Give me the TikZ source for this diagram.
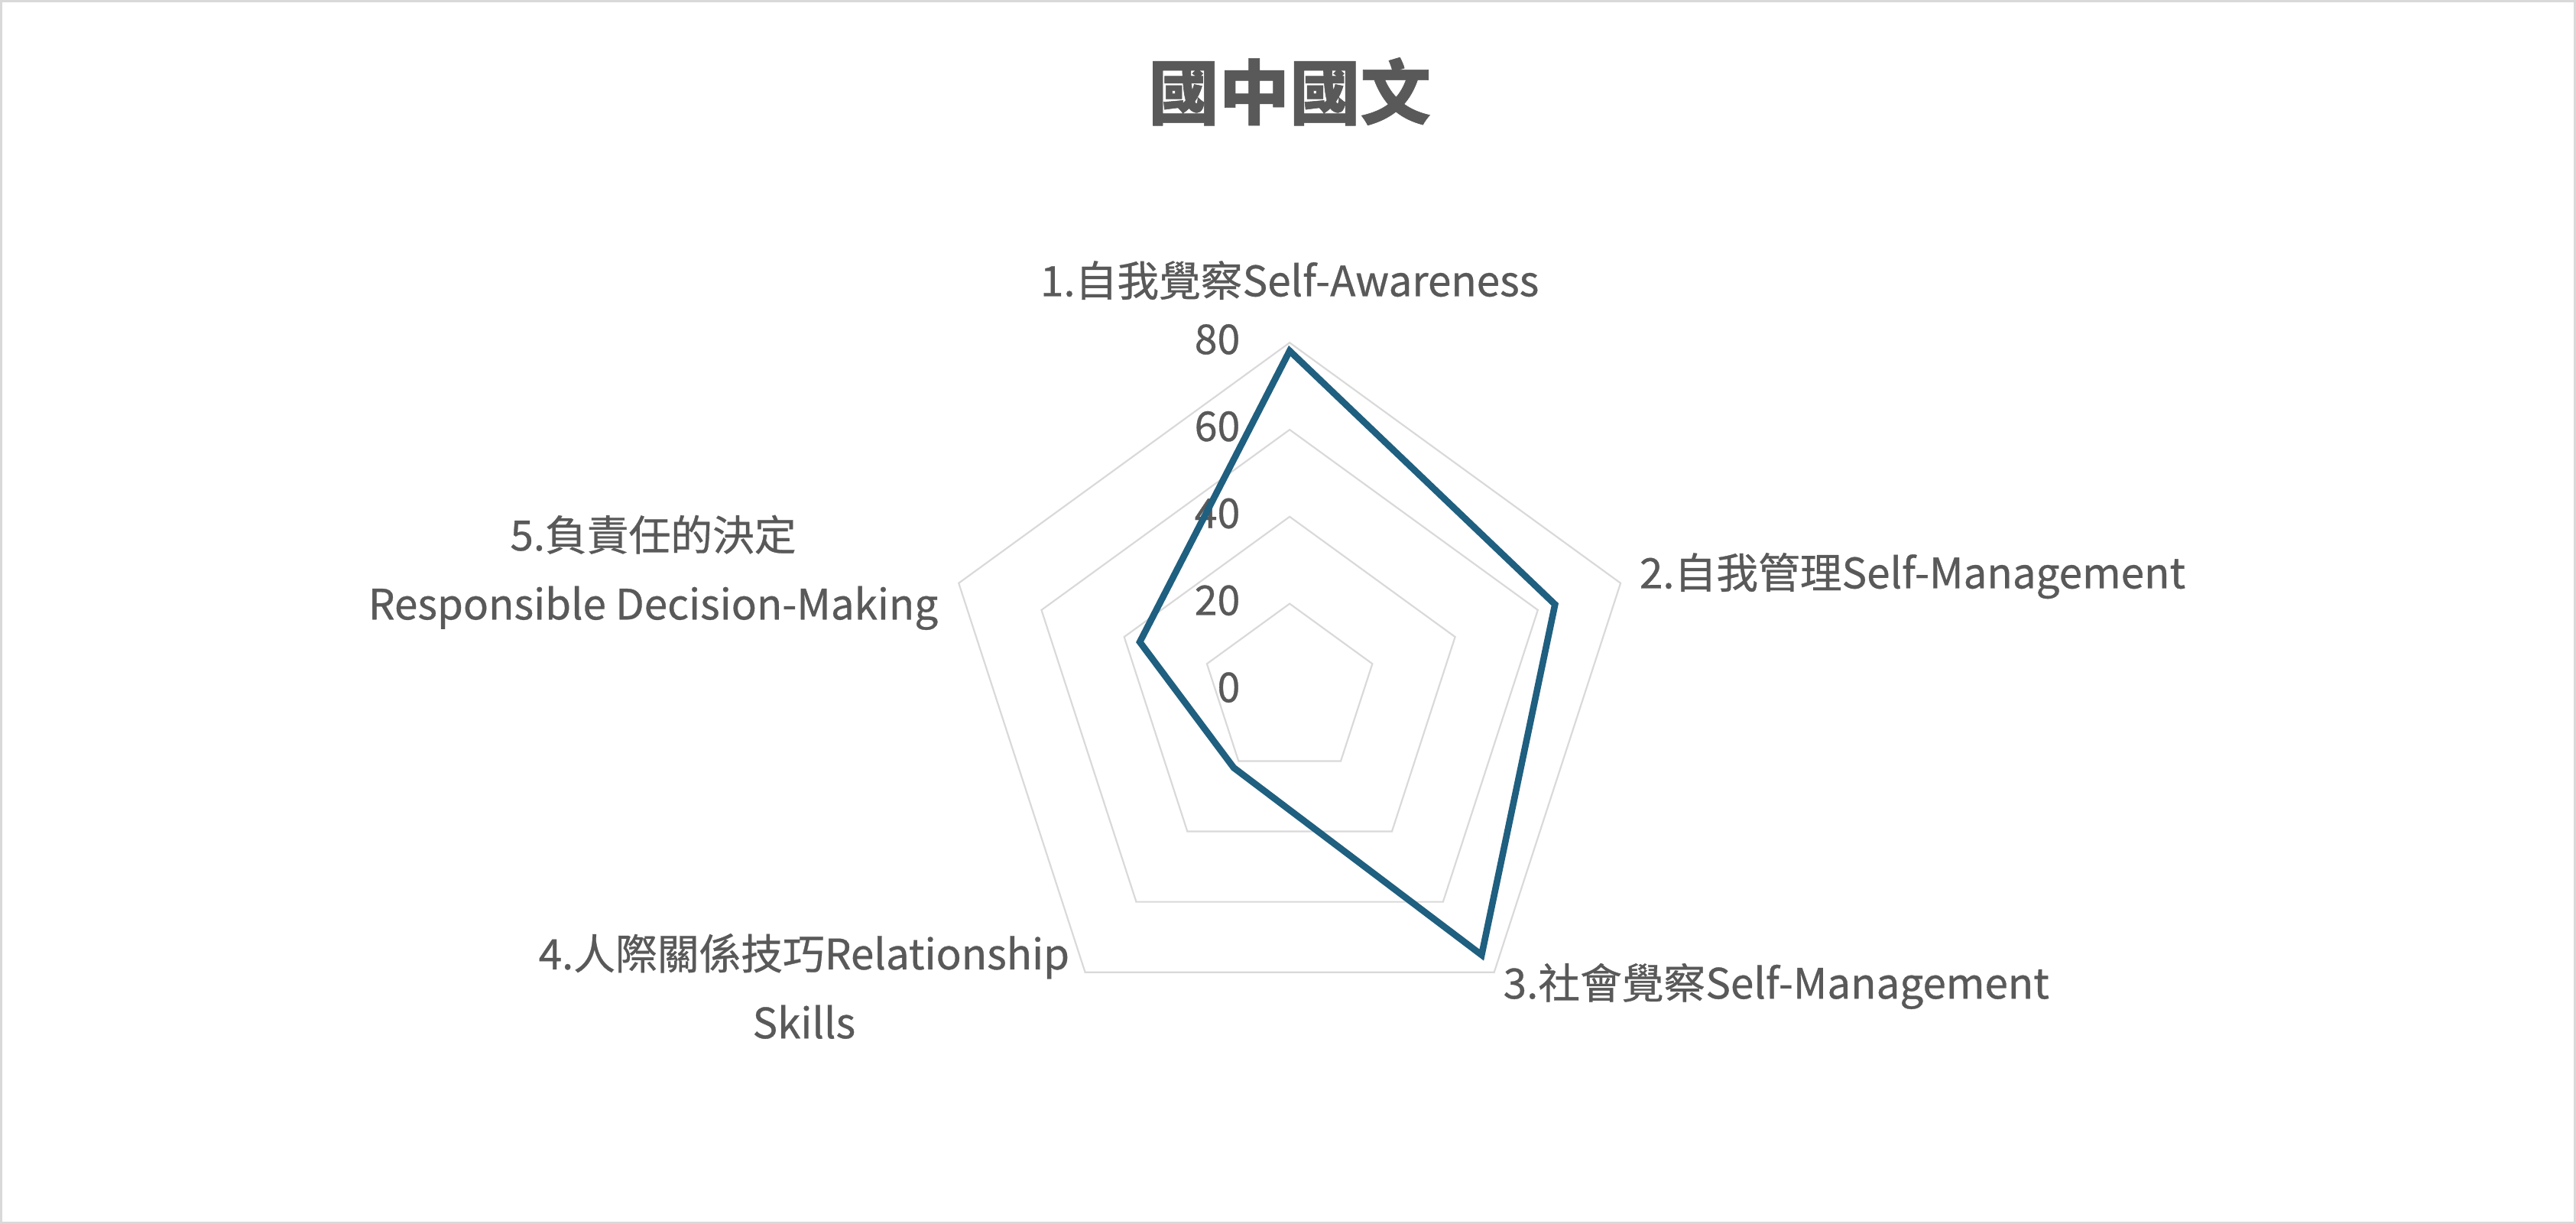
\documentclass[tikz,border=0pt]{standalone}
\usepackage{fontspec}
\setmainfont{Noto Sans CJK TC}[FakeBold=0.6]
\usepackage{tikz}
\usetikzlibrary{positioning, calc}
\definecolor{labelgray}{HTML}{595959}
\definecolor{ringgray}{HTML}{D9D9D9}
\definecolor{seriesblue}{HTML}{1F5F7F}

\begin{document}
\begin{tikzpicture}[x=1pt, y=-1pt,
    ring/.style={draw=ringgray, line width=1pt},
    series/.style={draw=seriesblue, line width=4pt, line join=miter},
    axislabel/.style={text=labelgray, font=\fontsize{25.5}{30}\selectfont, inner sep=0pt},
    ticklabel/.style={text=labelgray, font=\fontsize{25}{26}\selectfont, anchor=east, inner sep=0pt}]
    % frame and background
    \draw[draw=ringgray, line width=1.5pt, fill=white] (0,0) rectangle (1568,744);
    \coordinate (center) at (785,420);

    % title
    \node[text=labelgray, font=\fontsize{43}{48}\selectfont\bfseries] (title) at (785,55) {國中國文};

    % rings
    \foreach \r in {53,106,159,212} {
        \draw[ring] ($(center)+(-90:\r)$) -- ($(center)+(-18:\r)$) -- ($(center)+(54:\r)$)
            -- ($(center)+(126:\r)$) -- ($(center)+(198:\r)$) -- cycle;
    }

    % tick labels
    \foreach \v/\r in {0/0,20/53,40/106,60/159,80/212} {
        \node[ticklabel] at ($(center)+(-30,-\r)+(0,-2)$) {\v};
    }

    % data
    \coordinate (d1) at ($(center)+(-90:207)$);
    \coordinate (d2) at ($(center)+(-18:170)$);
    \coordinate (d3) at ($(center)+(54:199)$);
    \coordinate (d4) at ($(center)+(126:58)$);
    \coordinate (d5) at ($(center)+(198:96)$);
    \draw[series] (d1) -- (d2) -- (d3) -- (d4) -- (d5) -- cycle;

    % axis labels
    \node[axislabel] (selfaware) at (785,170) {1.自我覺察Self-Awareness};
    \node[axislabel, anchor=west] (selfmanage) at (998,350) {2.自我管理Self-Management};
    \node[axislabel, anchor=west] (social) at (915,600) {3.社會覺察Self-Management};
    \node[axislabel, anchor=east, align=center] (relation) at (651,600) {4.人際關係技巧Relationship\\[12pt]Skills};
    \node[axislabel, anchor=east, align=center] (decision) at (571,348) {5.負責任的決定\\[12pt]Responsible Decision-Making};
\end{tikzpicture}
\end{document}
